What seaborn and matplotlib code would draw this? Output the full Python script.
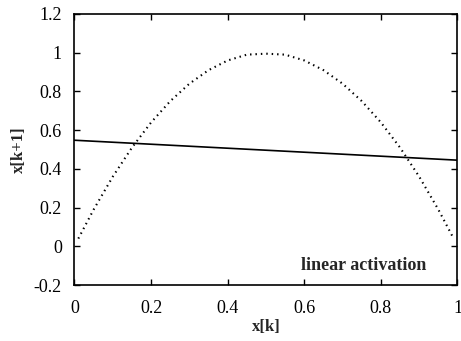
import matplotlib
matplotlib.use("Agg")
import matplotlib.pyplot as plt
import seaborn as sns
import pandas as pd

# Logistic-map return curve (dotted) and linear-activation fit (solid)
x_curve = [0.01, 0.05, 0.10, 0.15, 0.20, 0.25, 0.30, 0.35, 0.40, 0.45, 0.50,
           0.55, 0.60, 0.65, 0.70, 0.75, 0.80, 0.85, 0.90, 0.95, 0.99]
y_curve = [0.04, 0.19, 0.36, 0.51, 0.64, 0.75, 0.84, 0.91, 0.96, 0.99, 0.995,
           0.99, 0.96, 0.91, 0.84, 0.75, 0.64, 0.51, 0.36, 0.19, 0.04]
x_line = [0.0, 1.0]
y_line = [0.548, 0.445]

x_ticks = [0, 0.2, 0.4, 0.6, 0.8, 1]
x_tick_labels = ["0", "0.2", "0.4", "0.6", "0.8", "1"]
y_ticks = [-0.2, 0, 0.2, 0.4, 0.6, 0.8, 1, 1.2]
y_tick_labels = ["-0.2", "0", "0.2", "0.4", "0.6", "0.8", "1", "1.2"]

sns.set_style("ticks")
plt.rcParams["font.family"] = ["Liberation Serif", "DejaVu Serif"]

fig = plt.figure(figsize=(4.61, 3.41), dpi=100)
ax = fig.add_axes([0.1616, 0.164, 0.8308, 0.795])

curve = pd.DataFrame({"x": x_curve, "y": y_curve})
line = pd.DataFrame({"x": x_line, "y": y_line})

sns.lineplot(data=curve, x="x", y="y", ax=ax, color="black",
             linewidth=1.5, linestyle=(0, (0.7, 1.9)), estimator=None, sort=False)
sns.lineplot(data=line, x="x", y="y", ax=ax, color="black",
             linewidth=1.2, estimator=None)

ax.set_xlim(0, 1)
ax.set_ylim(-0.2, 1.2)
ax.set_xticks(x_ticks)
ax.set_xticklabels(x_tick_labels)
ax.set_yticks(y_ticks)
ax.set_yticklabels(y_tick_labels)
ax.tick_params(direction="in", top=True, right=True, length=4, width=1,
               labelsize=13, colors="black")
ax.tick_params(axis="x", pad=11)
ax.tick_params(axis="y", pad=9)
for sp in ax.spines.values():
    sp.set_linewidth(1.2)
    sp.set_color("black")

ax.set_xlabel("x[k]", fontsize=12, fontweight="bold", labelpad=1)
ax.set_ylabel("x[k+1]", fontsize=12, fontweight="bold", labelpad=5)
ax.text(0.92, -0.098, "linear activation", fontsize=13, fontweight="bold",
        ha="right", va="center")

fig.savefig("out.png", dpi=100)
